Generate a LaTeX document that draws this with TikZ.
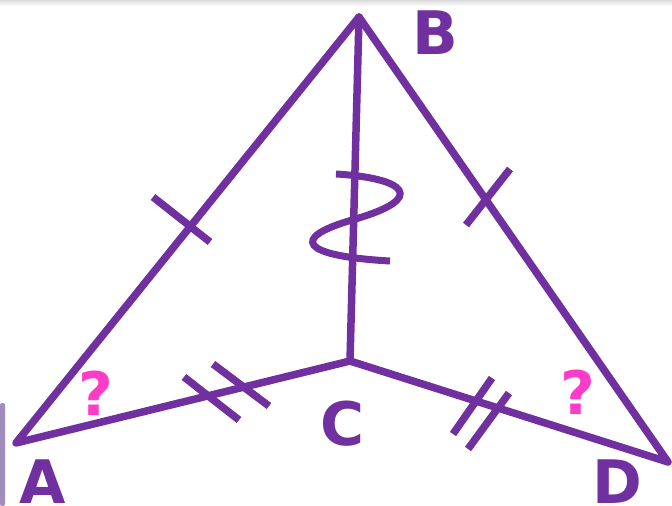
\documentclass[tikz,border=0pt]{standalone}
\usepackage{fontspec}
\setmainfont{DejaVu Sans}
\definecolor{geopurple}{RGB}{112,48,160}
\definecolor{qpink}{RGB}{255,60,200}
\definecolor{barcol}{RGB}{162,140,190}
\begin{document}
\begin{tikzpicture}[x=1pt,y=-1pt,
  edge/.style={draw=geopurple,line width=7.5pt,line cap=round,line join=round},
  tick/.style={draw=geopurple,line width=7.5pt},
  vlabel/.style={text=geopurple,font=\fontsize{60}{60}\selectfont\bfseries,inner sep=0pt},
  qlabel/.style={text=qpink,font=\fontsize{60}{60}\selectfont\bfseries,inner sep=0pt}]
\useasboundingbox (0,0) rectangle (672,506);
\fill[white] (0,0) rectangle (672,506);
\shade[top color=black!14,bottom color=white] (0,0) rectangle (672,6);
\fill[barcol,rounded corners=2pt] (0,506) -- (0,403) -- (5,403) -- (5,506) -- cycle;
% vertices
\coordinate (A) at (16,443);
\coordinate (B) at (359,17);
\coordinate (C) at (350,361);
\coordinate (D) at (668,462);
% edges
\draw[edge] (A) -- (B) -- (D) -- (C) -- (A);
\draw[edge] (B) -- (C);
% ticks
\draw[tick] (153,197) -- (210,242);
\draw[tick] (466,225) -- (510,169);
\draw[tick] (184,377) -- (239,420);
\draw[tick] (213,364) -- (269,406);
\draw[tick] (492,378) -- (453,434);
\draw[tick] (509,393) -- (468,449);
% squiggle
\draw[geopurple,line width=7pt] (336,174) .. controls (405,178) and (430,198) .. (352,220)
  .. controls (290,238) and (300,256) .. (390,261);
% labels
\node[vlabel] (lB) at (435,33) {B};
\node[vlabel] (lA) at (43,482) {A};
\node[vlabel] (lC) at (343,424) {C};
\node[vlabel] (lD) at (617,482) {D};
\node[qlabel] (q1) at (96,393) {?};
\node[qlabel] (q2) at (578,392) {?};
\end{tikzpicture}
\end{document}
